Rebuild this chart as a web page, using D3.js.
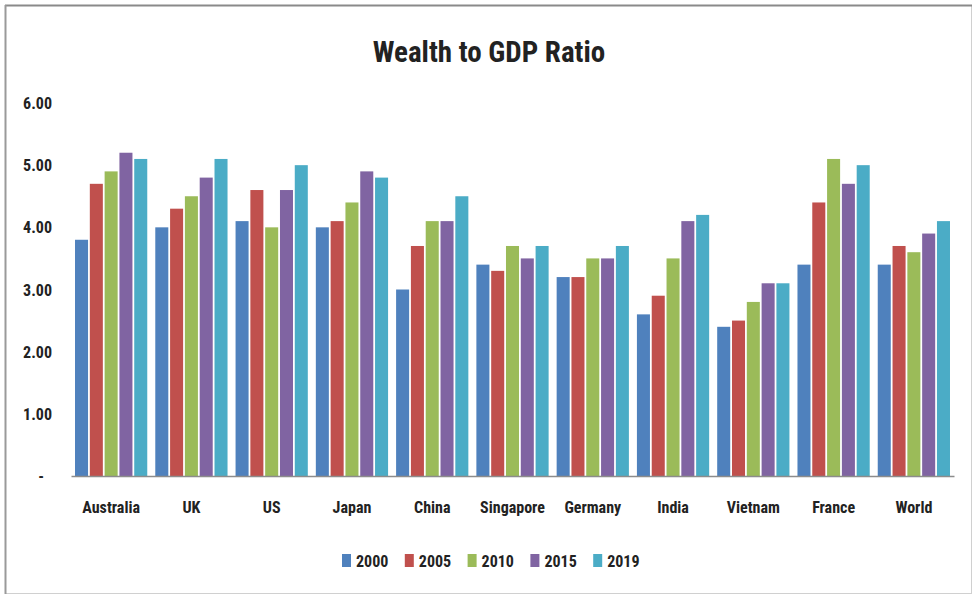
<!DOCTYPE html>
<html>
<head>
<meta charset="utf-8">
<script src="https://cdn.jsdelivr.net/npm/d3@7"></script>
<style>
html,body{margin:0;padding:0;background:#fff;}
svg text{font-family:"Liberation Sans Narrow","Roboto Condensed","DejaVu Sans Condensed","Liberation Sans",sans-serif;font-weight:bold;fill:#222;}
</style>
</head>
<body>
<svg id="chart" width="973" height="597"></svg>
<script>
const categories = ["Australia","UK","US","Japan","China","Singapore","Germany","India","Vietnam","France","World"];
const years = ["2000","2005","2010","2015","2019"];
const s2000 = [3.8,4.0,4.1,4.0,3.0,3.4,3.2,2.6,2.4,3.4,3.4];
const s2005 = [4.7,4.3,4.6,4.1,3.7,3.3,3.2,2.9,2.5,4.4,3.7];
const s2010 = [4.9,4.5,4.0,4.4,4.1,3.7,3.5,3.5,2.8,5.1,3.6];
const s2015 = [5.2,4.8,4.6,4.9,4.1,3.5,3.5,4.1,3.1,4.7,3.9];
const s2019 = [5.1,5.1,5.0,4.8,4.5,3.7,3.7,4.2,3.1,5.0,4.1];
const seriesValues = [s2000,s2005,s2010,s2015,s2019];
const colors = ["#4F81BD","#C0504D","#9BBB59","#8064A2","#4BACC6"];
const yTicks = [0,1,2,3,4,5,6];
const title = "Wealth to GDP Ratio";

const svg = d3.select("#chart");

// frame
svg.append("rect").attr("x",5.5).attr("y",5.5).attr("width",966).attr("height",588)
  .attr("fill","#fff").attr("stroke","#d0d0d0").attr("stroke-width",1);
svg.append("line").attr("x1",5).attr("x2",972).attr("y1",5.5).attr("y2",5.5).attr("stroke","#8a8a8a").attr("stroke-width",2);
svg.append("line").attr("x1",5.5).attr("x2",5.5).attr("y1",5).attr("y2",594).attr("stroke","#9a9a9a").attr("stroke-width",2);

const x0 = d3.scaleBand().domain(categories).range([71,954]).paddingInner(0.1).paddingOuter(0.05);
const x1 = d3.scaleBand().domain(years).range([0,x0.bandwidth()]).paddingInner(0.12);
const y = d3.scaleLinear().domain([0,6]).range([476,103]);

svg.append("text").attr("x",489).attr("y",62).attr("text-anchor","middle")
  .style("font-size","29px").text(title);

// y axis labels
const yAxis = d3.axisLeft(y).tickValues(yTicks).tickSize(0).tickPadding(0)
  .tickFormat(d => d === 0 ? "-" : d3.format(".2f")(d));
const gy = svg.append("g").attr("transform","translate(52,0)").call(yAxis);
gy.select(".domain").remove();
gy.selectAll("text").style("font-size","16px").attr("text-anchor","end").attr("dy","0.35em");
gy.selectAll(".tick").filter(d=>d===0).select("text").attr("x",-8);

// bars
const groups = svg.append("g").selectAll("g").data(categories).join("g")
  .attr("transform", c => `translate(${x0(c)},0)`);
groups.selectAll("rect").data((c,i) => years.map((yr,j) => ({yr, v: seriesValues[j][i], j})))
  .join("rect")
  .attr("x", d => x1(d.yr))
  .attr("y", d => y(d.v))
  .attr("width", x1.bandwidth())
  .attr("height", d => y(0) - y(d.v))
  .attr("fill", d => colors[d.j]);

// x axis
const xAxis = d3.axisBottom(x0).tickSize(0).tickPadding(26);
const gx = svg.append("g").attr("transform",`translate(0,${y(0)})`).call(xAxis);
gx.select(".domain").attr("stroke","#8c8c8c").attr("stroke-width",1.5);
gx.selectAll("text").style("font-size","16px");

// legend
const legendX = d3.scaleBand().domain(years).range([342,656]);
const lg = svg.append("g").selectAll("g").data(years).join("g")
  .attr("transform", d => `translate(${legendX(d)},561)`);
lg.append("rect").attr("x",0).attr("y",-7).attr("width",9).attr("height",13).attr("fill",(d,i)=>colors[i]);
lg.append("text").attr("x",14).attr("y",0).attr("dy","0.35em").style("font-size","16px").text(d=>d);
</script>
</body>
</html>
